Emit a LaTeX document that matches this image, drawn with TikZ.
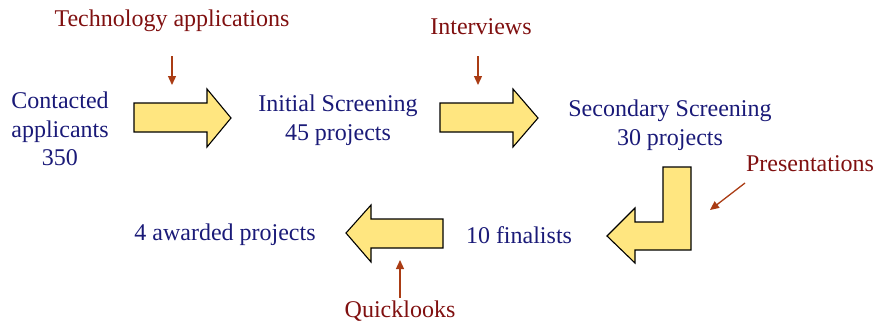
\documentclass[tikz,border=0pt]{standalone}
\usepackage{fontspec}
\setmainfont{Liberation Serif}
\usetikzlibrary{arrows.meta}
\definecolor{navy}{RGB}{26,26,120}
\definecolor{maroon}{RGB}{128,16,16}
\definecolor{arrowbrown}{RGB}{170,60,20}
\definecolor{bigfill}{RGB}{255,230,128}
\tikzset{
  blue text/.style={text=navy, font=\fontsize{24}{28.5}\selectfont, align=center, inner sep=0pt},
  red text/.style={text=maroon, font=\fontsize{24}{28.5}\selectfont, align=center, inner sep=0pt},
  bigarrow/.style={fill=bigfill, draw=black, line width=1.1pt, line join=miter},
  pointer/.style={draw=arrowbrown, line width=1.3pt, -{Triangle[length=9pt,width=8pt]}}
}
\begin{document}
\begin{tikzpicture}[x=1pt,y=-1pt]
\useasboundingbox (0,0) rectangle (876,322);
% texts
\node[red text] (tech) at (172,21) {Technology applications};
\node[red text] (interv) at (481,27) {Interviews};
\node[blue text] (contact) at (60,129) {Contacted\\applicants\\350};
\node[blue text] (initial) at (338,120) {Initial Screening\\45 projects};
\node[blue text] (second) at (670,125) {Secondary Screening\\30 projects};
\node[red text] (pres) at (810,164) {Presentations};
\node[blue text] (final) at (519,235) {10 finalists};
\node[blue text] (award) at (225,235) {4 awarded projects};
\node[red text] (quick) at (400,311) {Quicklooks};
% big arrows
\draw[bigarrow] (134,103) -- (207,103) -- (207,89) -- (231,118) -- (207,147) -- (207,132) -- (134,132) -- cycle;
\draw[bigarrow] (440,103) -- (513,103) -- (513,89) -- (538,118) -- (513,147) -- (513,132) -- (440,132) -- cycle;
\draw[bigarrow] (663,167) -- (691,167) -- (691,250) -- (635,250) -- (635,263) -- (607,236) -- (635,208) -- (635,222) -- (663,222) -- cycle;
\draw[bigarrow] (443,219) -- (443,248) -- (371,248) -- (371,262) -- (346,233) -- (371,205) -- (371,219) -- cycle;
% pointers
\coordinate (t1) at (172,56); \coordinate (t2) at (172,85);
\coordinate (i1) at (478,56); \coordinate (i2) at (478,85);
\coordinate (p1) at (745,183); \coordinate (p2) at (710,210);
\coordinate (q1) at (400,298); \coordinate (q2) at (400,260);
\draw[pointer] (t1) -- (t2);
\draw[pointer] (i1) -- (i2);
\draw[pointer] (p1) -- (p2);
\draw[pointer] (q1) -- (q2);
\end{tikzpicture}
\end{document}
